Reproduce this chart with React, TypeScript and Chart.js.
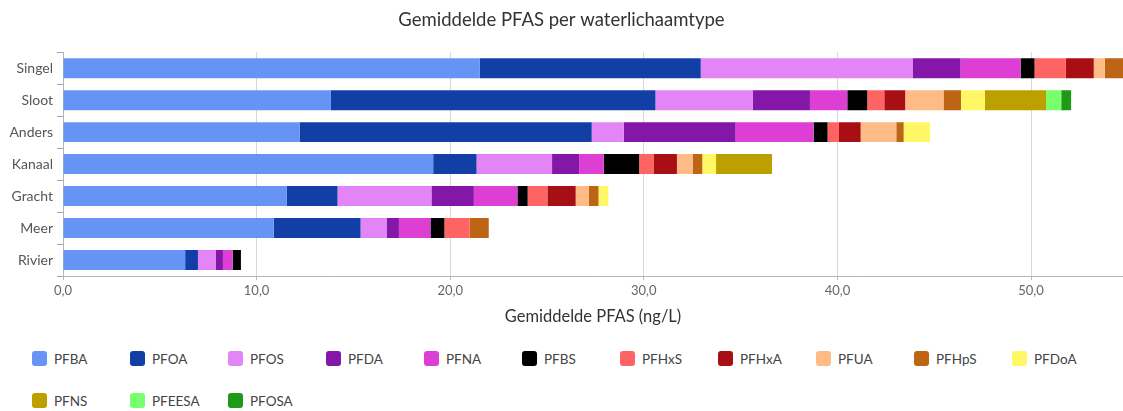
import React, { useEffect, useRef } from "react";
import { Chart, registerables } from "chart.js";

Chart.register(...registerables);

const categories = ["Singel", "Sloot", "Anders", "Kanaal", "Gracht", "Meer", "Rivier"];

const seriesNames = ["PFBA", "PFOA", "PFOS", "PFDA", "PFNA", "PFBS", "PFHxS", "PFHxA", "PFUA", "PFHpS", "PFDoA", "PFNS", "PFEESA", "PFOSA"];

const seriesColors = ["#6594F4", "#123FA6", "#E385F7", "#8416A8", "#DD3FD5", "#000000", "#FF6464", "#A80F14", "#FFBB86", "#BD6515", "#FFF766", "#BBA000", "#78FF6C", "#1F9A17"];

const PFBA = [21.53, 13.84, 12.22, 19.12, 11.55, 10.88, 6.31];
const PFOA = [11.41, 16.76, 15.09, 2.24, 2.63, 4.49, 0.66];
const PFOS = [10.94, 5.02, 1.65, 3.9, 4.85, 1.34, 0.91];
const PFDA = [2.48, 2.96, 5.78, 1.4, 2.19, 0.64, 0.38];
const PFNA = [3.1, 1.93, 4.03, 1.27, 2.25, 1.63, 0.5];
const PFBS = [0.72, 1.03, 0.72, 1.83, 0.53, 0.72, 0.43];
const PFHxS = [1.62, 0.88, 0.59, 0.74, 1.02, 1.31, 0];
const PFHxA = [1.44, 1.08, 1.12, 1.21, 1.46, 0, 0];
const PFUA = [0.57, 1.98, 1.84, 0.81, 0.68, 0, 0];
const PFHpS = [1.5, 0.9, 0.38, 0.5, 0.5, 0.98, 0];
const PFDoA = [0, 1.24, 1.37, 0.71, 0.51, 0, 0];
const PFNS = [0, 3.16, 0, 2.89, 0, 0, 0];
const PFEESA = [0, 0.78, 0, 0, 0, 0, 0];
const PFOSA = [0, 0.51, 0, 0, 0, 0, 0];

const seriesValues = [PFBA, PFOA, PFOS, PFDA, PFNA, PFBS, PFHxS, PFHxA, PFUA, PFHpS, PFDoA, PFNS, PFEESA, PFOSA];

const xTicks = [0, 10, 20, 30, 40, 50];
const xMax = 54.75;

const FONT = "Lato, 'Open Sans', sans-serif";

export default function App() {
  const canvasRef = useRef<HTMLCanvasElement | null>(null);

  useEffect(() => {
    const canvas = canvasRef.current;
    if (!canvas) return;
    const chart = new Chart(canvas, {
      type: "bar",
      data: {
        labels: categories,
        datasets: seriesNames.map((name, i) => ({
          label: name,
          data: seriesValues[i],
          backgroundColor: seriesColors[i],
          borderWidth: 0,
          barPercentage: 0.625,
          categoryPercentage: 1,
        })),
      },
      options: {
        indexAxis: "y",
        responsive: false,
        animation: false,
        layout: { padding: { left: 0, right: 0, top: 0, bottom: 0 } },
        plugins: {
          legend: { display: false },
          tooltip: { enabled: false },
          title: {
            display: true,
            text: "Gemiddelde PFAS per waterlichaamtype",
            color: "#333333",
            font: { family: FONT, size: 18.5, weight: "normal" },
            padding: { top: 9, bottom: 21 },
          },
        },
        scales: {
          x: {
            stacked: true,
            min: 0,
            max: xMax,
            afterBuildTicks: (scale: any) => {
              scale.ticks = xTicks.map((v) => ({ value: v }));
            },
            afterFit: (scale: any) => {
              scale.height = 51;
            },
            ticks: {
              color: "#666666",
              font: { family: FONT, size: 13 },
              padding: 3,
              callback: (v: any) => Number(v).toFixed(1).replace(".", ","),
            },
            grid: {
              color: "#d8d8d8",
              borderDash: [5, 4],
              tickLength: 4,
              tickColor: "#bbbbbb",
              tickBorderDash: [],
            } as any,
            border: { display: true, color: "#b5b5b5", width: 1 },
            title: {
              display: true,
              text: "Gemiddelde PFAS (ng/L)",
              color: "#333333",
              font: { family: FONT, size: 16.5 },
              padding: { top: 4, bottom: 0 },
            },
          },
          y: {
            stacked: true,
            afterFit: (scale: any) => {
              scale.width = 63;
            },
            ticks: {
              color: "#555555",
              font: { family: FONT, size: 14 },
              padding: 4,
            },
            grid: {
              drawOnChartArea: false,
              drawTicks: true,
              tickLength: 6,
              tickColor: "#aaaaaa",
            },
            border: { display: true, color: "#b5b5b5", width: 1 },
          },
        },
      },
    });
    return () => chart.destroy();
  }, []);

  return (
    <div style={{ position: "fixed", left: 0, top: 0, width: 1123, height: 411, background: "#ffffff", overflow: "hidden" }}>
      <canvas ref={canvasRef} width={1123} height={327} style={{ display: "block" }} />
      {seriesNames.map((name, i) => {
        const row = Math.floor(i / 11);
        const col = i % 11;
        return (
          <div
            key={name}
            style={{
              position: "absolute",
              left: 32 + col * 98,
              top: row === 0 ? 351 : 393,
              height: 15,
              display: "flex",
              alignItems: "center",
              fontFamily: FONT,
              fontSize: 13.5,
              color: "#444444",
              whiteSpace: "nowrap",
            }}
          >
            <span style={{ display: "inline-block", width: 15, height: 15, borderRadius: 3, background: seriesColors[i], marginRight: 7 }} />
            <span>{name}</span>
          </div>
        );
      })}
    </div>
  );
}
